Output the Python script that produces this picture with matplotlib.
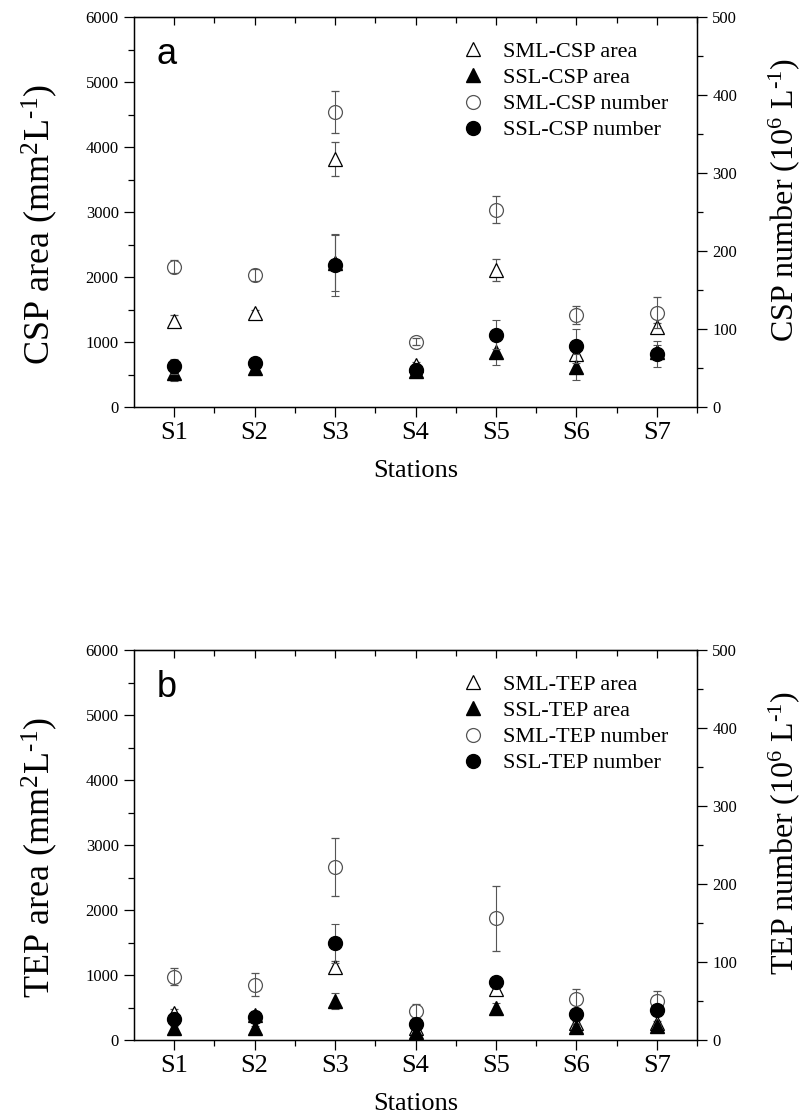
import matplotlib
matplotlib.use("Agg")
import matplotlib.pyplot as plt
from matplotlib.lines import Line2D
from matplotlib.ticker import MultipleLocator, FixedLocator
import numpy as np

plt.rcParams['font.family'] = ['Liberation Serif', 'DejaVu Serif']
plt.rcParams['mathtext.fontset'] = 'custom'
plt.rcParams['mathtext.rm'] = 'Liberation Serif'
plt.rcParams['mathtext.it'] = 'Liberation Serif:italic'

stations = ['S1', 'S2', 'S3', 'S4', 'S5', 'S6', 'S7']

# panel a: CSP
csp_sml_area = [1330, 1440, 3810, 640, 2110, 820, 1230]
csp_sml_area_err = [90, 60, 260, 60, 170, 60, 60]
csp_ssl_area = [520, 600, 2210, 550, 840, 620, 850]
csp_ssl_area_err = [120, 90, 430, 90, 190, 200, 110]
csp_sml_num = [180, 169, 378, 84, 253, 118, 121]
csp_sml_num_err = [8, 8, 27, 5, 17, 11, 20]
csp_ssl_num = [52, 57, 182, 47, 93, 78, 68]
csp_ssl_num_err = [9, 6, 40, 7, 19, 22, 17]

# panel b: TEP
tep_sml_area = [420, 380, 1130, 180, 790, 260, 260]
tep_sml_area_err = [60, 60, 80, 40, 60, 40, 40]
tep_ssl_area = [180, 180, 600, 130, 490, 200, 210]
tep_ssl_area_err = [40, 40, 130, 30, 80, 40, 40]
tep_sml_num = [81, 71, 222, 37, 156, 53, 50]
tep_sml_num_err = [11, 15, 37, 9, 42, 13, 13]
tep_ssl_num = [27, 30, 124, 21, 75, 33, 38]
tep_ssl_num_err = [4, 4, 25, 4, 5, 5, 4]

ERR_COLOR = '#555555'


def draw_panel(ax, letter, name, sml_area, sml_area_err, ssl_area, ssl_area_err,
               sml_num, sml_num_err, ssl_num, ssl_num_err):
    x = np.arange(1, len(stations) + 1)
    ekw = dict(ecolor=ERR_COLOR, elinewidth=0.8, capsize=3, capthick=0.8, linestyle='none')

    ax.errorbar(x, sml_area, yerr=sml_area_err, marker='^', ms=10, mfc='white',
                mec='black', mew=0.9, zorder=2, **ekw)
    ax.errorbar(x, ssl_area, yerr=ssl_area_err, marker='^', ms=10, mfc='black',
                mec='black', zorder=3, **ekw)

    ax.set_xlim(0.5, 7.5)
    ax.set_ylim(0, 6000)
    ax.set_xticks(x)
    ax.set_xticklabels(stations)
    ax.xaxis.set_minor_locator(FixedLocator(np.arange(1.5, 7.6, 1)))
    ax.yaxis.set_major_locator(MultipleLocator(1000))
    ax.yaxis.set_minor_locator(MultipleLocator(500))
    ax.tick_params(axis='x', which='major', direction='out', length=7, width=0.9,
                   labelsize=19, pad=4)
    ax.tick_params(axis='x', which='minor', direction='out', length=4, width=0.9)
    ax.tick_params(axis='y', which='major', direction='out', length=7, width=0.9,
                   labelsize=12, pad=4)
    ax.tick_params(axis='y', which='minor', direction='out', length=4, width=0.9)
    for s in ax.spines.values():
        s.set_linewidth(1.0)

    # inward ticks on the top edge
    top = ax.secondary_xaxis('top')
    top.set_xticks(x)
    top.xaxis.set_minor_locator(FixedLocator(np.arange(1.5, 7.6, 1)))
    top.tick_params(axis='x', which='major', direction='in', length=6, width=0.9, labeltop=False)
    top.tick_params(axis='x', which='minor', direction='in', length=4, width=0.9)

    ax.set_xlabel('Stations', fontsize=19, labelpad=11)
    ax.set_ylabel(name + r' area (mm$^{2}$L$^{\text{-}1}$)', fontsize=26)
    ax.yaxis.set_label_coords(-0.132, 0.467)

    ax2 = ax.twinx()
    ax2.errorbar(x, sml_num, yerr=sml_num_err, marker='o', ms=10, mfc='none',
                 mec='#555555', mew=0.9, zorder=2, **ekw)
    ax2.errorbar(x, ssl_num, yerr=ssl_num_err, marker='o', ms=10, mfc='black',
                 mec='black', zorder=3, **ekw)
    ax2.set_ylim(0, 500)
    ax2.yaxis.set_major_locator(MultipleLocator(100))
    ax2.yaxis.set_minor_locator(MultipleLocator(50))
    ax2.tick_params(axis='y', which='major', direction='out', length=7, width=0.9,
                    labelsize=12, pad=4)
    ax2.tick_params(axis='y', which='minor', direction='out', length=4, width=0.9)
    ax2.set_ylabel(name + r' number (10$^{6}$ L$^{\text{-}1}$)', fontsize=23)
    ax2.yaxis.set_label_coords(1.123, 0.53)

    ax.text(0.04, 0.905, letter, transform=ax.transAxes, fontsize=26,
            family='Liberation Sans', va='center', ha='left')

    handles = [
        Line2D([], [], ls='none', marker='^', ms=10, mfc='white', mec='black', mew=0.9),
        Line2D([], [], ls='none', marker='^', ms=10, mfc='black', mec='black'),
        Line2D([], [], ls='none', marker='o', ms=10, mfc='white', mec='#555555', mew=0.9),
        Line2D([], [], ls='none', marker='o', ms=10, mfc='black', mec='black'),
    ]
    labels = ['SML-%s area' % name, 'SSL-%s area' % name,
              'SML-%s number' % name, 'SSL-%s number' % name]
    ax2.legend(handles, labels, loc='upper left', bbox_to_anchor=(0.562, 0.96),
               frameon=False, fontsize=16, handlelength=1.2, handletextpad=0.75,
               labelspacing=0.25, borderaxespad=0)


fig = plt.figure(figsize=(8.04, 11.14), dpi=100)
ax_a = fig.add_axes([0.1667, 0.6346, 0.7002, 0.3501])
ax_b = fig.add_axes([0.1667, 0.0664, 0.7002, 0.3501])

draw_panel(ax_a, 'a', 'CSP', csp_sml_area, csp_sml_area_err, csp_ssl_area, csp_ssl_area_err,
           csp_sml_num, csp_sml_num_err, csp_ssl_num, csp_ssl_num_err)
draw_panel(ax_b, 'b', 'TEP', tep_sml_area, tep_sml_area_err, tep_ssl_area, tep_ssl_area_err,
           tep_sml_num, tep_sml_num_err, tep_ssl_num, tep_ssl_num_err)

fig.savefig('out.png', dpi=100)
